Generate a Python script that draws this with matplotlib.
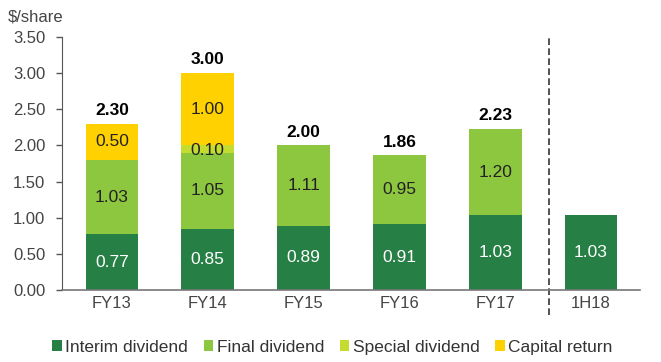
import matplotlib

matplotlib.use("Agg")
import matplotlib.pyplot as plt
import numpy as np

categories = ["FY13", "FY14", "FY15", "FY16", "FY17", "1H18"]
interim = [0.77, 0.85, 0.89, 0.91, 1.03, 1.03]
final = [1.03, 1.05, 1.11, 0.95, 1.20, 0.0]
special = [0.0, 0.10, 0.0, 0.0, 0.0, 0.0]
capital = [0.50, 1.00, 0.0, 0.0, 0.0, 0.0]
totals = ["2.30", "3.00", "2.00", "1.86", "2.23", ""]

series_names = ["Interim dividend", "Final dividend", "Special dividend", "Capital return"]
colors = ["#267F45", "#8DC63F", "#C4DB30", "#FFD100"]
label_colors = ["white", "#222222", "#222222", "#222222"]

plt.rcParams['font.family'] = ['Liberation Sans', 'DejaVu Sans']

fig = plt.figure(figsize=(6.61, 3.62), dpi=100)
ax = fig.add_axes([0.094, 0.199, 0.874, 0.699])

x = np.arange(len(categories))
width = 0.55
bottom = np.zeros(len(categories))
for vals, name, col, lc in zip([interim, final, special, capital], series_names, colors, label_colors):
    vals = np.array(vals)
    ax.bar(x, vals, width, bottom=bottom, color=col, label=name, edgecolor='none')
    for xi, b, v in zip(x, bottom, vals):
        if v > 0:
            y = b + v / 2
            if name == "Special dividend":
                y = b + v / 2 - 0.02
            ax.text(xi, y, f"{v:.2f}", ha='center', va='center', fontsize=12.5, color=lc)
    bottom = bottom + vals

for xi, t, b in zip(x, totals, bottom):
    if t:
        ax.text(xi, b + 0.08, t, ha='center', va='bottom', fontsize=12.5, fontweight='bold', color='black')

ax.axvline(4.56, ymin=-0.1, ymax=1.0, color='#333333', linestyle=(0, (4, 2)), linewidth=1.2, clip_on=False)

ax.set_xlim(-0.52, 5.51)
ax.set_ylim(0, 3.5)
ax.set_yticks(np.arange(0, 3.51, 0.5))
ax.set_yticklabels([f"{v:.2f}" for v in np.arange(0, 3.51, 0.5)], fontsize=12, color='#444444')
ax.set_xticks(x)
ax.set_xticklabels(categories, fontsize=12, color='#444444')
ax.tick_params(axis='x', length=0, pad=4)
ax.tick_params(axis='y', length=4, color='#555555', width=1, pad=8)
for s in ['top', 'right']:
    ax.spines[s].set_visible(False)
ax.spines['left'].set_color('#555555')
ax.spines['bottom'].set_color('#777777')
ax.spines['bottom'].set_linewidth(1.2)

fig.text(0.012, 0.94, "$/share", fontsize=12, color='#444444')

leg = ax.legend(loc='upper center', bbox_to_anchor=(0.468, -0.135), ncol=4, frameon=False,
                fontsize=12.5, handlelength=0.55, handleheight=0.55, handletextpad=0.2,
                columnspacing=0.9, labelcolor='#333333')

fig.savefig("out.png", dpi=100)
